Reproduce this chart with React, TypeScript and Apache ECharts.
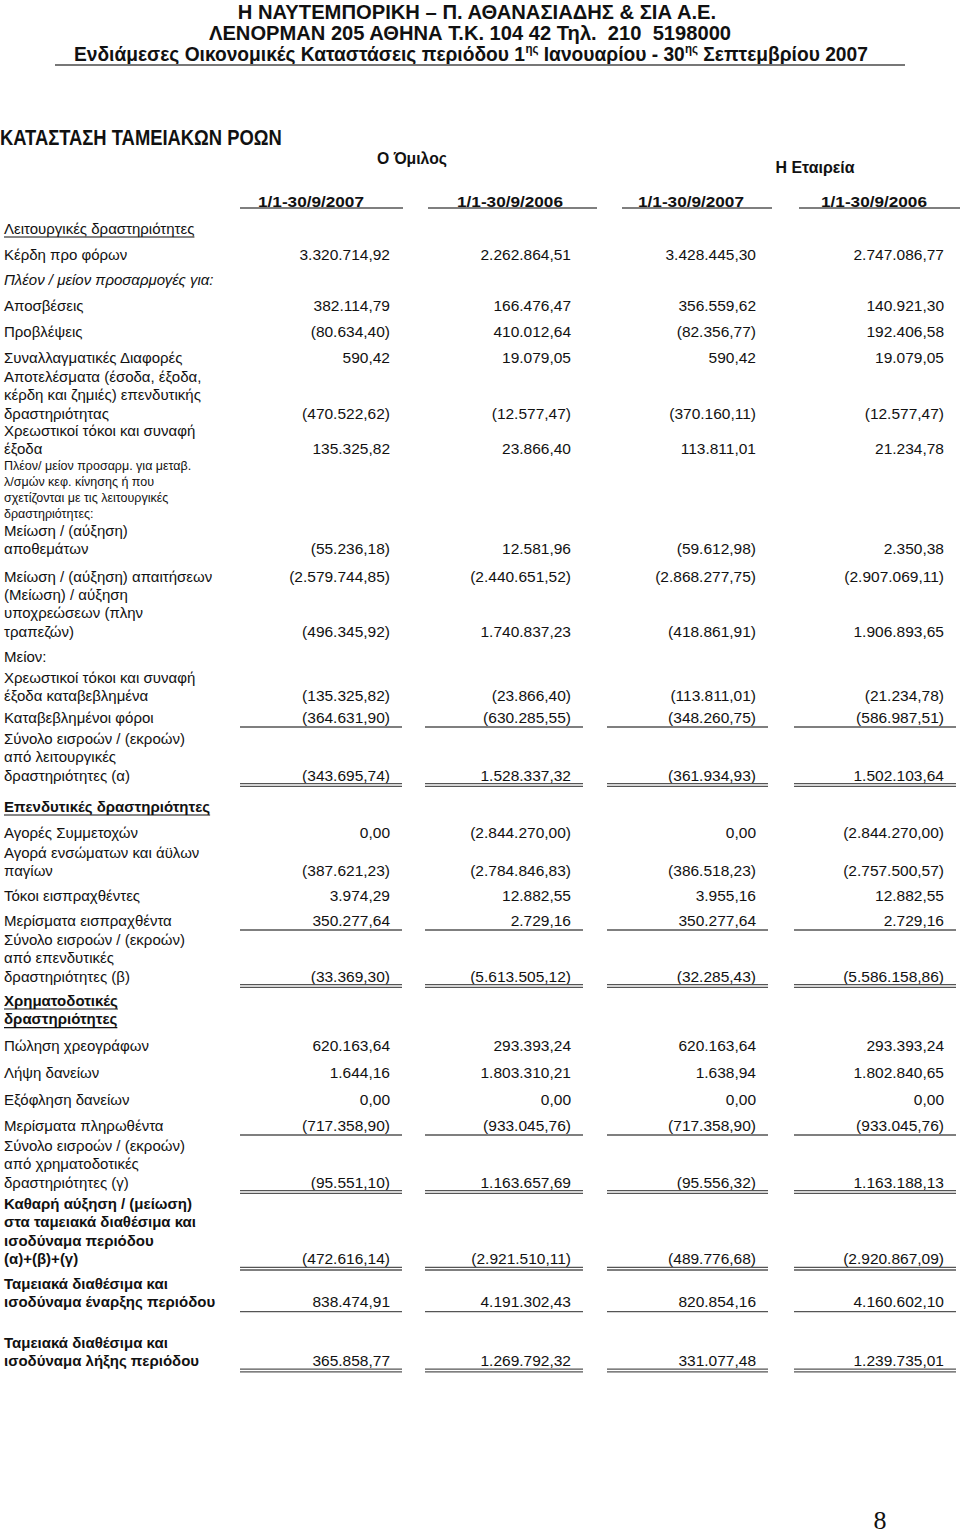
import React, { useEffect, useRef } from "react";
import * as echarts from "echarts";

// ---------- DATA ----------
const companyTitle = "Η ΝΑΥΤΕΜΠΟΡΙΚΗ – Π. ΑΘΑΝΑΣΙΑΔΗΣ & ΣΙΑ Α.Ε.";
const companyAddress = "ΛΕΝΟΡΜΑΝ 205 ΑΘΗΝΑ Τ.Κ. 104 42 Τηλ.  210  5198000";
// [text, isSuperscript]
const periodParts: [string, boolean][] = [
  ["Ενδιάμεσες Οικονομικές Καταστάσεις περιόδου 1", false],
  ["ης", true],
  [" Ιανουαρίου - 30", false],
  ["ης", true],
  [" Σεπτεμβρίου 2007", false],
];
const statementTitle = "ΚΑΤΑΣΤΑΣΗ ΤΑΜΕΙΑΚΩΝ ΡΟΩΝ";
const entityHeaders = ["Ο Όμιλος", "Η Εταιρεία"];
const periodHeaders = ["1/1-30/9/2007", "1/1-30/9/2006", "1/1-30/9/2007", "1/1-30/9/2006"];
const pageNumber = "8";

const rowLabels: string[][] = [
  ["Λειτουργικές δραστηριότητες"],
  ["Κέρδη προ φόρων"],
  ["Πλέον / μείον προσαρμογές για:"],
  ["Αποσβέσεις"],
  ["Προβλέψεις"],
  ["Συναλλαγματικές Διαφορές"],
  ["Αποτελέσματα (έσοδα, έξοδα,", "κέρδη και ζημιές) επενδυτικής", "δραστηριότητας"],
  ["Χρεωστικοί τόκοι και συναφή", "έξοδα"],
  ["Πλέον/ μείον προσαρμ. για μεταβ.", "λ/σμών κεφ. κίνησης ή που", "σχετίζονται με τις λειτουργικές", "δραστηριότητες:"],
  ["Μείωση / (αύξηση)", "αποθεμάτων"],
  ["Μείωση / (αύξηση) απαιτήσεων"],
  ["(Μείωση) / αύξηση", "υποχρεώσεων (πλην", "τραπεζών)"],
  ["Μείον:"],
  ["Χρεωστικοί τόκοι και συναφή", "έξοδα καταβεβλημένα"],
  ["Καταβεβλημένοι φόροι"],
  ["Σύνολο εισροών / (εκροών)", "από λειτουργικές", "δραστηριότητες (α)"],
  ["Επενδυτικές δραστηριότητες"],
  ["Αγορές Συμμετοχών"],
  ["Αγορά ενσώματων και άϋλων", "παγίων"],
  ["Τόκοι εισπραχθέντες"],
  ["Μερίσματα εισπραχθέντα"],
  ["Σύνολο εισροών / (εκροών)", "από επενδυτικές", "δραστηριότητες (β)"],
  ["Χρηματοδοτικές", "δραστηριότητες"],
  ["Πώληση χρεογράφων"],
  ["Λήψη δανείων"],
  ["Εξόφληση δανείων"],
  ["Μερίσματα πληρωθέντα"],
  ["Σύνολο εισροών / (εκροών)", "από χρηματοδοτικές", "δραστηριότητες (γ)"],
  ["Καθαρή αύξηση / (μείωση)", "στα ταμειακά διαθέσιμα και", "ισοδύναμα περιόδου", "(α)+(β)+(γ)"],
  ["Ταμειακά διαθέσιμα και", "ισοδύναμα έναρξης περιόδου"],
  ["Ταμειακά διαθέσιμα και", "ισοδύναμα λήξης περιόδου"],
];

const groupCurrent: (string | null)[] = [
  null, "3.320.714,92", null, "382.114,79", "(80.634,40)", "590,42", "(470.522,62)", "135.325,82", null,
  "(55.236,18)", "(2.579.744,85)", "(496.345,92)", null, "(135.325,82)", "(364.631,90)", "(343.695,74)",
  null, "0,00", "(387.621,23)", "3.974,29", "350.277,64", "(33.369,30)", null,
  "620.163,64", "1.644,16", "0,00", "(717.358,90)", "(95.551,10)", "(472.616,14)", "838.474,91", "365.858,77",
];
const groupPrior: (string | null)[] = [
  null, "2.262.864,51", null, "166.476,47", "410.012,64", "19.079,05", "(12.577,47)", "23.866,40", null,
  "12.581,96", "(2.440.651,52)", "1.740.837,23", null, "(23.866,40)", "(630.285,55)", "1.528.337,32",
  null, "(2.844.270,00)", "(2.784.846,83)", "12.882,55", "2.729,16", "(5.613.505,12)", null,
  "293.393,24", "1.803.310,21", "0,00", "(933.045,76)", "1.163.657,69", "(2.921.510,11)", "4.191.302,43", "1.269.792,32",
];
const companyCurrent: (string | null)[] = [
  null, "3.428.445,30", null, "356.559,62", "(82.356,77)", "590,42", "(370.160,11)", "113.811,01", null,
  "(59.612,98)", "(2.868.277,75)", "(418.861,91)", null, "(113.811,01)", "(348.260,75)", "(361.934,93)",
  null, "0,00", "(386.518,23)", "3.955,16", "350.277,64", "(32.285,43)", null,
  "620.163,64", "1.638,94", "0,00", "(717.358,90)", "(95.556,32)", "(489.776,68)", "820.854,16", "331.077,48",
];
const companyPrior: (string | null)[] = [
  null, "2.747.086,77", null, "140.921,30", "192.406,58", "19.079,05", "(12.577,47)", "21.234,78", null,
  "2.350,38", "(2.907.069,11)", "1.906.893,65", null, "(21.234,78)", "(586.987,51)", "1.502.103,64",
  null, "(2.844.270,00)", "(2.757.500,57)", "12.882,55", "2.729,16", "(5.586.158,86)", null,
  "293.393,24", "1.802.840,65", "0,00", "(933.045,76)", "1.163.188,13", "(2.920.867,09)", "4.160.602,10", "1.239.735,01",
];

// ---------- STYLE / LAYOUT ----------
// kinds: s = section (underlined), n = normal, i = italic, t = small note, b = bold, h = bold underlined section
const rowKinds = [
  "s", "n", "i", "n", "n", "n", "n", "n", "t", "n", "n", "n", "n", "n", "n", "n",
  "h", "n", "n", "n", "n", "n", "h", "n", "n", "n", "n", "n", "b", "b", "b",
];
// rules under values: 0 none, 1 single, 2 double
const rowRules = [
  0, 0, 0, 0, 0, 0, 0, 0, 0, 0, 0, 0, 0, 0, 1, 2,
  0, 0, 0, 0, 1, 2, 0, 0, 0, 0, 1, 2, 2, 1, 2,
];
const rowTop = [
  228, 254, 279, 305, 331, 357, 376, 430, 466, 530, 576, 594, 656, 677, 717, 738,
  806, 832, 852, 895, 920, 939, 1000, 1045, 1072, 1099, 1125, 1145, 1203, 1283, 1342,
];

const FONT = '"Liberation Sans", Arial, Helvetica, sans-serif';
const NARROW = '"Liberation Sans Narrow", "Arial Narrow", "Liberation Sans", sans-serif';
const INK = "#111";
const RULE = "#555";

const colRuleSpans: [number, number][] = [[240, 402], [425, 583], [607, 768], [794, 956]];
const headRuleSpans: [number, number][] = [[240, 403], [428, 597], [622, 772], [799, 960]];
const periodCenters = [311, 510, 691, 874];
const entityPos: [number, number][] = [[412, 158], [815, 167]];
const entityWidths = [70, 79];

export default function App() {
  const ref = useRef<HTMLDivElement>(null);

  useEffect(() => {
    if (!ref.current) return;
    const chart = echarts.init(ref.current, undefined, { renderer: "svg" });
    const canvas = document.createElement("canvas");
    const ctx = canvas.getContext("2d")!;
    const measure = (t: string, font: string) => {
      ctx.font = font;
      return ctx.measureText(t).width;
    };

    const els: any[] = [];
    const text = (x: number, y: number, t: string, font: string, align = "left", sx = 1) => {
      els.push({
        type: "text",
        x,
        y,
        scaleX: sx,
        silent: true,
        style: {
          text: t,
          font,
          fill: INK,
          textAlign: align,
          align,
          textVerticalAlign: "middle",
          verticalAlign: "middle",
        },
      });
    };
    // text squeezed horizontally to a given width (condensed face)
    const fitText = (x: number, y: number, t: string, font: string, align: string, width: number) => {
      text(x, y, t, font, align, width / measure(t, font));
    };
    const line = (x1: number, x2: number, y: number, lw = 1.3, stroke = RULE) => {
      els.push({
        type: "line",
        silent: true,
        shape: { x1, y1: y, x2, y2: y },
        style: { stroke, lineWidth: lw },
      });
    };

    // Document header
    const hFont = `bold 20px ${NARROW}`;
    fitText(477, 12, companyTitle, hFont, "center", 480);
    fitText(470, 33, companyAddress, hFont, "center", 523);
    const pFont = `bold 20px ${NARROW}`;
    const sFont = `bold 12px ${NARROW}`;
    const widths = periodParts.map(([t, sup]) => measure(t, sup ? sFont : pFont));
    const total = widths.reduce((a, b) => a + b, 0);
    const ps = 794 / total;
    let px = 471 - (total * ps) / 2;
    periodParts.forEach(([t, sup], i) => {
      text(px, sup ? 48.5 : 54, t, sup ? sFont : pFont, "left", ps);
      px += widths[i] * ps;
    });
    line(55, 905, 65, 2.2, "#777");

    // Statement title and column headers
    fitText(0, 137, statementTitle, `bold 22px ${NARROW}`, "left", 282);
    entityHeaders.forEach((h, i) =>
      fitText(entityPos[i][0], entityPos[i][1], h, `bold 17px ${NARROW}`, "center", entityWidths[i])
    );
    periodHeaders.forEach((h, i) => {
      fitText(periodCenters[i], 201, h, `bold 15px ${NARROW}`, "center", 106);
      line(headRuleSpans[i][0], headRuleSpans[i][1], 208, 1.4);
    });

    // Rows
    const valueCols = [groupCurrent, groupPrior, companyCurrent, companyPrior];
    rowLabels.forEach((lines, r) => {
      const kind = rowKinds[r];
      let font = `15px ${FONT}`;
      let step = 18.6;
      if (kind === "i") font = `italic 15px ${FONT}`;
      if (kind === "b" || kind === "h") font = `bold 15px ${FONT}`;
      if (kind === "t") {
        font = `12.5px ${FONT}`;
        step = 16;
      }
      lines.forEach((l, k) => {
        const y = rowTop[r] + k * step;
        text(4, y, l, font, "left");
        if (kind === "s" || kind === "h") {
          line(4, 4 + measure(l, font), y + 9, 1.2, INK);
        }
      });
      const lastY = rowTop[r] + (lines.length - 1) * step;
      valueCols.forEach((col, c) => {
        const v = col[r];
        if (v != null) text(colRuleSpans[c][1] - 12, lastY, v, `15.5px ${FONT}`, "right");
        const rule = rowRules[r];
        if (rule === 1) line(colRuleSpans[c][0], colRuleSpans[c][1], lastY + 10, 1.4);
        if (rule === 2) {
          line(colRuleSpans[c][0], colRuleSpans[c][1], lastY + 8.5, 1.3);
          line(colRuleSpans[c][0], colRuleSpans[c][1], lastY + 11.2, 1.3);
        }
      });
    });

    // Page number
    text(880, 1520, pageNumber, `26px "Liberation Serif", "Times New Roman", serif`, "center");

    chart.setOption({ animation: false, graphic: { elements: els } });
    return () => chart.dispose();
  }, []);

  return (
    <div
      ref={ref}
      style={{ position: "absolute", left: 0, top: 0, width: 960, height: 1536, background: "#fff" }}
    />
  );
}
